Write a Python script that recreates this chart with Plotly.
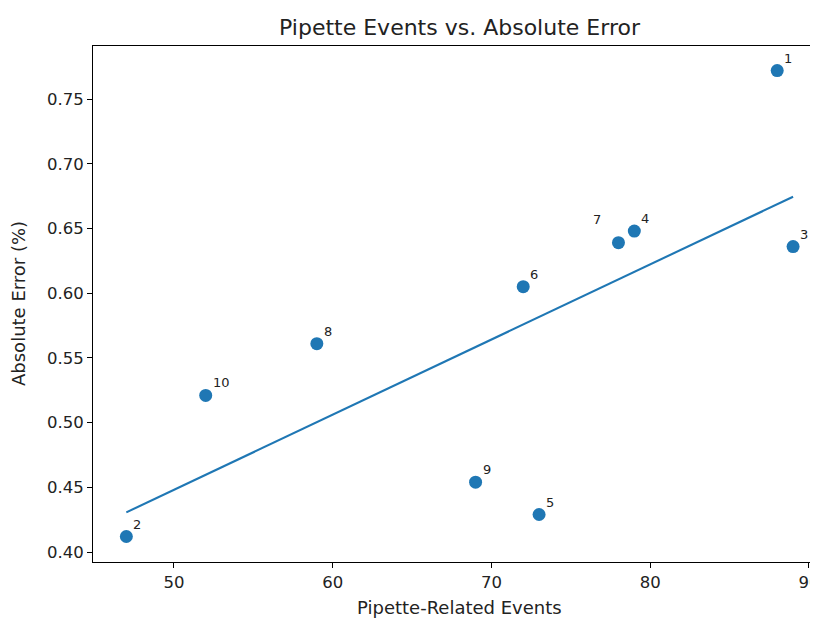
import numpy as np
import plotly.graph_objects as go

# Data
labels = ["1", "2", "3", "4", "5", "6", "7", "8", "9", "10"]
pipette_events = [88, 47, 89, 79, 73, 72, 78, 59, 69, 52]
absolute_error = [0.772, 0.412, 0.636, 0.648, 0.429, 0.605, 0.639, 0.561, 0.454, 0.521]
x_ticks = [50, 60, 70, 80, 90]
y_ticks = [0.40, 0.45, 0.50, 0.55, 0.60, 0.65, 0.70, 0.75]

BLUE = "#1f77b4"
FONT = "DejaVu Sans"
TXT = "#222"

x = np.array(pipette_events, dtype=float)
y = np.array(absolute_error, dtype=float)
slope, intercept = np.polyfit(x, y, 1)
xl = np.array([x.min(), x.max()])
yl = slope * xl + intercept

# page body has an 8px margin; figure is sized so that the plot lands where the reference has it
W, H = 810, 618 - 8
ML, MT, MB = 85, 38, 56
PW = W - ML

fig = go.Figure()
fig.add_trace(go.Scatter(x=x, y=y, mode="markers",
                         marker=dict(color=BLUE, size=13, line=dict(width=0)),
                         showlegend=False, hoverinfo="skip", cliponaxis=False))
fig.add_trace(go.Scatter(x=xl, y=yl, mode="lines",
                         line=dict(color=BLUE, width=2.1),
                         showlegend=False, hoverinfo="skip"))

annotations = []
for lab, xi, yi in zip(labels, x, y):
    if lab == "7":
        annotations.append(dict(x=xi, y=yi, xref="x", yref="y", text=lab, showarrow=False,
                                xanchor="right", yanchor="bottom", xshift=-15, yshift=14,
                                font=dict(family=FONT, size=13, color=TXT)))
    else:
        annotations.append(dict(x=xi, y=yi, xref="x", yref="y", text=lab, showarrow=False,
                                xanchor="left", yanchor="bottom", xshift=5, yshift=3,
                                font=dict(family=FONT, size=13, color=TXT)))

# axis titles
annotations.append(dict(x=(459.5 - 93) / PW, y=0, xref="paper", yref="paper",
                        text="Pipette-Related Events", showarrow=False,
                        xanchor="center", yanchor="middle", yshift=-45,
                        font=dict(family=FONT, size=18, color=TXT)))
annotations.append(dict(x=0, y=0.5, xref="paper", yref="paper",
                        text="Absolute Error (%)", showarrow=False, textangle=-90,
                        xanchor="center", yanchor="middle", xshift=-75,
                        font=dict(family=FONT, size=18, color=TXT)))

fig.update_layout(
    width=W, height=H,
    margin=dict(l=ML, r=0, t=MT, b=MB, autoexpand=False),
    paper_bgcolor="white", plot_bgcolor="white",
    font=dict(family=FONT, size=16.5, color=TXT),
    title=dict(text="Pipette Events vs. Absolute Error", x=(459.5 - 8) / W,
               xanchor="center", xref="container", y=1 - (27 - 8) / H, yanchor="middle",
               font=dict(family=FONT, size=22, color=TXT), automargin=False),
    annotations=annotations,
    xaxis=dict(range=[44.9, 90.57], tickvals=x_ticks, ticktext=[str(v) for v in x_ticks],
               showgrid=False, zeroline=False, showline=True, linecolor="black", linewidth=1.1,
               mirror=True, ticks="outside", ticklen=5, tickwidth=1.1, tickcolor="black",
               ticklabeloverflow="allow",
               automargin=False, tickfont=dict(family=FONT, size=16.5, color=TXT)),
    yaxis=dict(range=[0.3923, 0.791], tickvals=y_ticks, ticktext=[f"{v:.2f}" for v in y_ticks],
               showgrid=False, zeroline=False, showline=True, linecolor="black", linewidth=1.1,
               mirror=False, ticks="outside", ticklen=5, tickwidth=1.1, tickcolor="black",
               automargin=False, tickfont=dict(family=FONT, size=16.5, color=TXT)),
)

fig.write_html("out.html")
